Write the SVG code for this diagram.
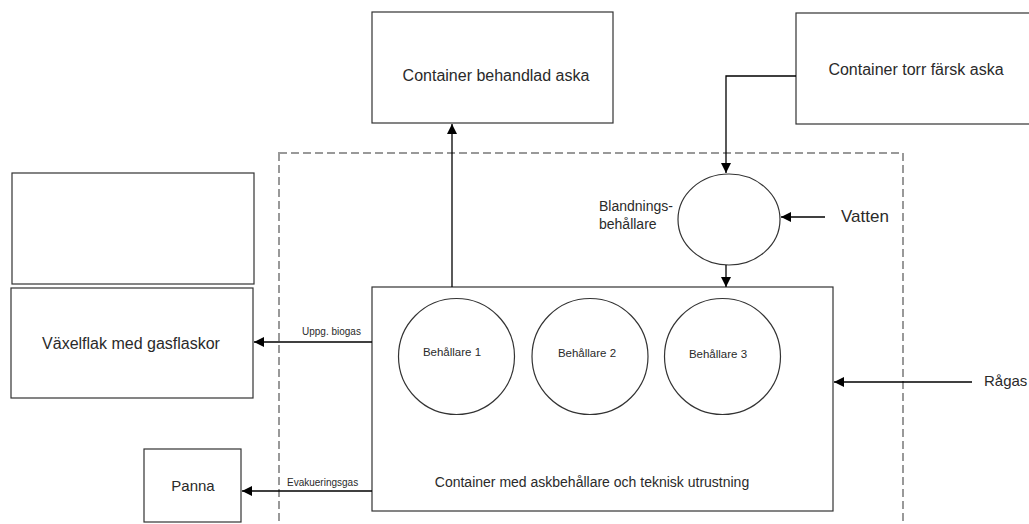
<svg xmlns="http://www.w3.org/2000/svg" width="1029" height="524" viewBox="0 0 1029 524">
<defs>
<marker id="ah" viewBox="0 0 10 10" refX="10" refY="5" markerWidth="10" markerHeight="10" markerUnits="userSpaceOnUse" orient="auto">
<path d="M0,0 L10,5 L0,10 z" fill="#000"/>
</marker>
<style>
.box{fill:#fff;stroke:#333;stroke-width:1.2}
.t{font-family:"Liberation Sans",Arial,sans-serif;fill:#2a2a2a}
.l{font-size:16px}
.v{font-size:17px}
.r{font-size:15px}
.p{font-size:15px}
.m{font-size:14px}
.s{font-size:11.5px}
.xs{font-size:10px}
.c{stroke:#000;stroke-width:1.3;fill:none}
</style>
</defs>
<rect width="1029" height="524" fill="#fff"/>
<rect x="279" y="153" width="624" height="400" fill="none" stroke="#999" stroke-width="2" stroke-dasharray="8,4"/>
<g id="behandlad">
<rect class="box" x="372" y="12" width="241" height="111"/>
<text class="t l" x="496" y="81" text-anchor="middle">Container behandlad aska</text>
</g>
<g id="torr">
<rect class="box" x="796" y="13" width="250" height="111"/>
<text class="t l" x="916" y="75" text-anchor="middle">Container torr färsk aska</text>
</g>
<g id="tom">
<rect class="box" x="12" y="173" width="242" height="111"/>
</g>
<g id="vaxelflak">
<rect class="box" x="11" y="288" width="242" height="110"/>
<text class="t l" x="131" y="349" text-anchor="middle">Växelflak med gasflaskor</text>
</g>
<g id="panna">
<rect class="box" x="144" y="449" width="97" height="73"/>
<text class="t p" x="193" y="491" text-anchor="middle">Panna</text>
</g>
<g id="blandning">
<ellipse class="box" cx="729" cy="219.5" rx="51" ry="45.5"/>
<text class="t m" x="599" y="211">Blandnings-</text>
<text class="t m" x="599" y="229">behållare</text>
</g>
<g id="huvud">
<rect class="box" x="372" y="287" width="461" height="224"/>
<text class="t m" x="592" y="487" text-anchor="middle">Container med askbehållare och teknisk utrustning</text>
</g>
<g id="b1">
<circle class="box" cx="456.5" cy="356.5" r="58"/>
<text class="t s" x="452" y="356" text-anchor="middle">Behållare 1</text>
</g>
<g id="b2">
<circle class="box" cx="590" cy="356.5" r="58"/>
<text class="t s" x="587" y="357" text-anchor="middle">Behållare 2</text>
</g>
<g id="b3">
<circle class="box" cx="722.5" cy="356.5" r="58"/>
<text class="t s" x="718" y="358" text-anchor="middle">Behållare 3</text>
</g>
<g id="vatten">
<text class="t v" x="841" y="222">Vatten</text>
</g>
<g id="ragas">
<text class="t r" x="984" y="386">Rågas</text>
</g>
<g id="connectors">
<line class="c" x1="452" y1="287" x2="452" y2="124" marker-end="url(#ah)"/>
<polyline class="c" points="796,76 726,76 726,173" marker-end="url(#ah)"/>
<line class="c" x1="726" y1="265" x2="726" y2="287" marker-end="url(#ah)"/>
<line class="c" x1="825" y1="217" x2="781" y2="217" marker-end="url(#ah)"/>
<line class="c" x1="972" y1="382" x2="834" y2="382" marker-end="url(#ah)"/>
<line class="c" x1="372" y1="342" x2="254" y2="342" marker-end="url(#ah)"/>
<line class="c" x1="372" y1="491" x2="242" y2="491" marker-end="url(#ah)"/>
<text class="t xs" x="302" y="335">Uppg. biogas</text>
<text class="t xs" x="287" y="486">Evakueringsgas</text>
</g>
</svg>
